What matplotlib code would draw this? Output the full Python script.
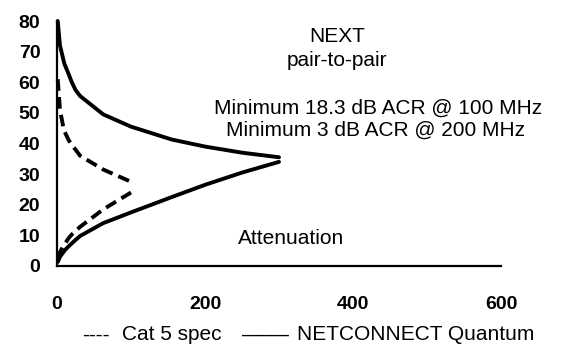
import matplotlib
matplotlib.use("Agg")
import matplotlib.pyplot as plt

plt.rcParams['font.family'] = ['Liberation Sans', 'DejaVu Sans']

# Cat 5 channel spec (MHz -> dB)
cat5_freq = [1, 4, 8, 10, 16, 20, 25, 31.25, 62.5, 100]
cat5_next = [61, 51, 46, 44, 41, 39.5, 38, 36, 31.5, 27.5]
cat5_atten = [2.5, 4.5, 6.3, 7.0, 9.2, 10.3, 11.4, 12.8, 18.5, 24.0]

# NETCONNECT Quantum measured
quantum_freq = [1, 4, 8, 10, 16, 20, 25, 31.25, 62.5, 100, 155, 200, 250, 300]
quantum_next = [80, 72, 68, 66, 62.5, 60, 57.5, 55.5, 49.5, 45.5, 41.3, 39, 37, 35.5]
quantum_atten = [1.3, 3, 4.3, 5, 6.5, 7.4, 8.5, 9.8, 14, 17.5, 22.5, 26.5, 30.5, 34]

x_ticks = [0, 200, 400, 600]
y_ticks = [0, 10, 20, 30, 40, 50, 60, 70, 80]

W, H = 565, 345
fig = plt.figure(figsize=(W / 100, H / 100), dpi=100)
ax = fig.add_axes([57 / W, (H - 266) / H, 444 / W, 245 / H])

lw = 2.8
for y in (cat5_next, cat5_atten):
    ax.plot(cat5_freq, y, color='black', lw=lw, dashes=(3, 1.6),
            solid_capstyle='butt', clip_on=False)
for y in (quantum_next, quantum_atten):
    ax.plot(quantum_freq, y, color='black', lw=lw, solid_capstyle='round',
            clip_on=False)

ax.set_xlim(0, 600)
ax.set_ylim(0, 80)
ax.set_xticks(x_ticks)
ax.set_yticks(y_ticks)
for side in ('top', 'right'):
    ax.spines[side].set_visible(False)
for side in ('left', 'bottom'):
    ax.spines[side].set_linewidth(1.6)
ax.tick_params(axis='both', length=0, labelsize=14)
ax.tick_params(axis='x', pad=21.5)
ax.tick_params(axis='y', pad=12)
for lab in ax.get_xticklabels() + ax.get_yticklabels():
    lab.set_fontweight('bold')

def px_text(x, y, s, **kw):
    fig.text(x / W, 1 - y / H, s, fontsize=15, va='center', **kw)

px_text(337, 36, 'NEXT', ha='center')
px_text(337, 60, 'pair-to-pair', ha='center')
px_text(378, 108, 'Minimum 18.3 dB ACR @ 100 MHz', ha='center')
px_text(375, 130, 'Minimum 3 dB ACR @ 200 MHz', ha='center')
px_text(291, 238, 'Attenuation', ha='center')

# legend written out as text, like the original sheet
px_text(82, 335, '----', ha='left')
px_text(122, 335, 'Cat 5 spec', ha='left')
px_text(242, 335, '\u2013\u2013\u2013\u2013', ha='left')
px_text(297, 335, 'NETCONNECT Quantum', ha='left')

fig.savefig('out.png', dpi=100)
